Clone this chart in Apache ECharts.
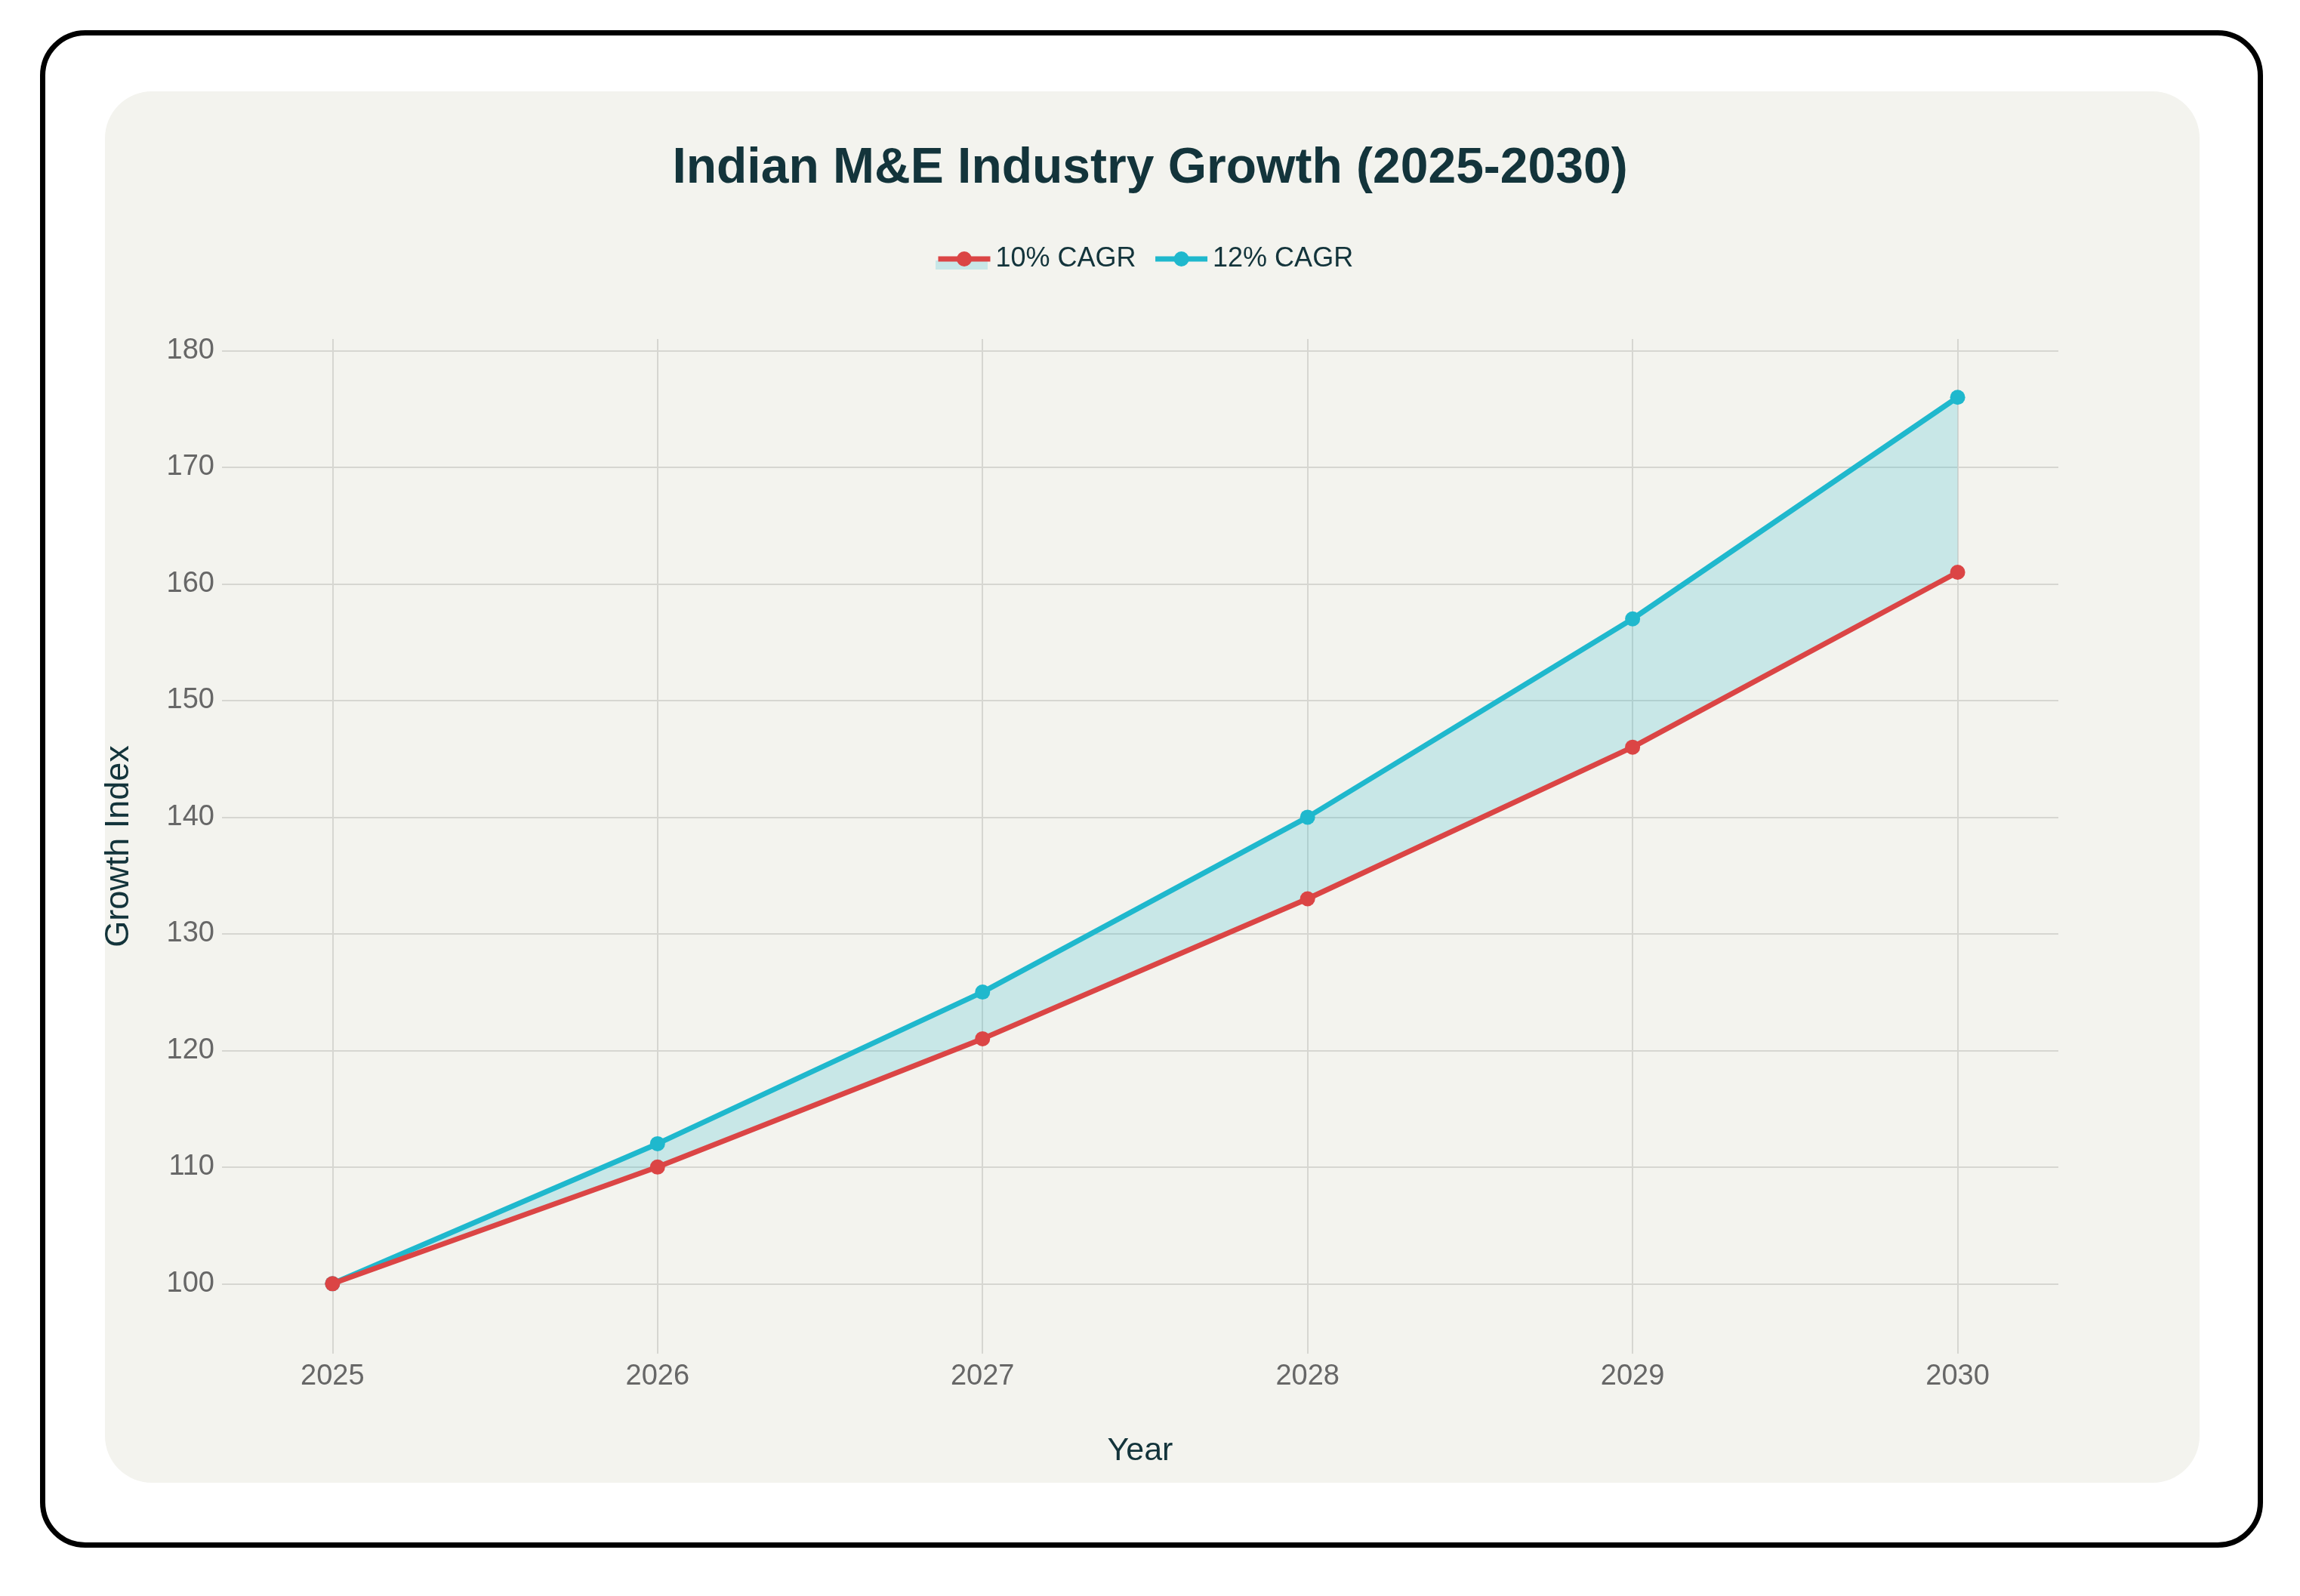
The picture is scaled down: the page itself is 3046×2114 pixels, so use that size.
<!DOCTYPE html>
<html>
<head>
<meta charset="utf-8">
<script src="https://cdn.jsdelivr.net/npm/echarts@6/dist/echarts.min.js"></script>
<style>
  html, body { margin: 0; padding: 0; background: #ffffff; width: 3046px; height: 2114px; overflow: hidden; }
  #frame { position: absolute; left: 53px; top: 40px; width: 2944px; height: 2010px; box-sizing: border-box; border: 7px solid #000; border-radius: 60px; }
  #panel { position: absolute; left: 139px; top: 121px; width: 2774px; height: 1843px; background: #F3F3EE; border-radius: 62px; }
  #chart { position: absolute; left: 0; top: 0; width: 3046px; height: 2114px; }
</style>
</head>
<body>
<div id="frame"></div>
<div id="panel"></div>
<div id="chart"></div>
<script>
const years = [2025, 2026, 2027, 2028, 2029, 2030];
const cagr10 = [100, 110, 121, 133, 146, 161];
const cagr12 = [100, 112, 125, 140, 157, 176];
const seriesNames = ['10% CAGR', '12% CAGR'];
const titleText = 'Indian M&E Industry Growth (2025-2030)';
const xAxisTitle = 'Year';
const yAxisTitle = 'Growth Index';

const RED = '#DB4545';
const CYAN = '#1FB8CD';
const FILL = 'rgba(31,184,205,0.2)';
const DARK = '#13343B';
const FONT = '"Liberation Sans", Arial, sans-serif';

const pts = (vals) => years.map((y, i) => [y, vals[i]]);
const bandData = years.map((y, i) => [y, cagr10[i], cagr12[i]]);

const chart = echarts.init(document.getElementById('chart'), null, { renderer: 'canvas' });
chart.setOption({
  animation: false,
  backgroundColor: 'transparent',
  textStyle: { fontFamily: FONT },
  title: {
    text: titleText,
    left: 'center',
    top: 186,
    textStyle: { fontFamily: FONT, fontWeight: 'bold', fontSize: 66, color: DARK }
  },
  legend: {
    data: seriesNames,
    top: 320,
    left: 1234,
    itemWidth: 69,
    itemHeight: 25,
    itemGap: 22,
    lineStyle: { width: 7 },
    textStyle: { fontFamily: FONT, fontSize: 36, color: DARK, padding: [0, 0, 0, 2] }
  },
  graphic: [
    { type: 'rect', z: -1, silent: true, shape: { x: 1239, y: 345, width: 69, height: 12 }, style: { fill: FILL } }
  ],
  grid: { left: 294, right: 320, top: 449, bottom: 321, containLabel: false },
  xAxis: {
    type: 'value',
    min: 2024.66,
    max: 2030.31,
    minInterval: 1,
    maxInterval: 1,
    name: xAxisTitle,
    nameLocation: 'middle',
    nameGap: 108,
    nameTextStyle: { fontFamily: FONT, fontSize: 43, color: DARK },
    axisLine: { show: false },
    axisTick: { show: false },
    axisLabel: {
      showMinLabel: false, showMaxLabel: false,
      margin: 12, fontSize: 38, color: '#676767', fontFamily: FONT,
      formatter: (v) => String(v)
    },
    splitLine: { show: true, showMinLine: false, showMaxLine: false, lineStyle: { color: '#D6D6D1', width: 2 } }
  },
  yAxis: {
    type: 'value',
    min: 94,
    max: 181,
    minInterval: 10,
    maxInterval: 10,
    name: yAxisTitle,
    nameLocation: 'middle',
    nameGap: 114,
    nameTextStyle: { fontFamily: FONT, fontSize: 45, color: DARK },
    axisLine: { show: false },
    axisTick: { show: false },
    axisLabel: {
      showMinLabel: false, showMaxLabel: false,
      margin: 10, fontSize: 38, color: '#676767', fontFamily: FONT
    },
    splitLine: { show: true, showMinLine: false, showMaxLine: false, lineStyle: { color: '#D6D6D1', width: 2 } }
  },
  series: [
    {
      name: 'band', type: 'custom', data: bandData, silent: true, z: 1,
      encode: { x: 0, y: [1, 2] },
      renderItem: function (params, api) {
        if (params.dataIndex !== 0) return null;
        const upper = years.map((y, i) => api.coord([y, cagr12[i]]));
        const lower = years.map((y, i) => api.coord([y, cagr10[i]])).reverse();
        return {
          type: 'polygon',
          shape: { points: upper.concat(lower) },
          style: { fill: FILL, stroke: null }
        };
      }
    },
    {
      name: seriesNames[1], type: 'line', data: pts(cagr12),
      symbol: 'circle', symbolSize: 20,
      lineStyle: { color: CYAN, width: 7 }, itemStyle: { color: CYAN }, z: 3
    },
    {
      name: seriesNames[0], type: 'line', data: pts(cagr10),
      symbol: 'circle', symbolSize: 20,
      lineStyle: { color: RED, width: 7 }, itemStyle: { color: RED }, z: 4
    }
  ]
});
</script>
</body>
</html>
